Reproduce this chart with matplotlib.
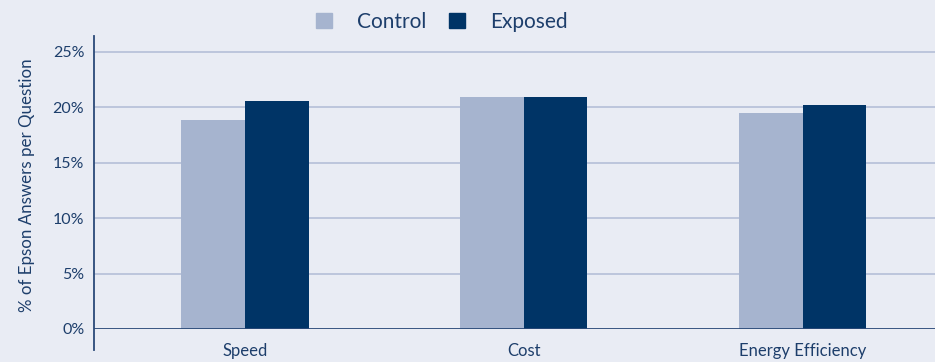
import numpy as np
import matplotlib
matplotlib.use('Agg')
import matplotlib.pyplot as plt
from matplotlib.patches import Patch

plt.rcParams['font.family'] = ['Lato', 'DejaVu Sans']

# data
categories = ['Speed', 'Cost', 'Energy Efficiency']
control = [18.9, 20.9, 19.5]
exposed = [20.6, 20.95, 20.25]
yticks = [0, 5, 10, 15, 20, 25]

bg = '#e9ecf4'
c_control = '#a6b4cf'
c_exposed = '#003466'
c_text = '#1d3e6b'
c_grid = '#b9c3da'

fig = plt.figure(figsize=(9.35, 3.62), dpi=100, facecolor=bg)
ax = fig.add_axes([94 / 935, 33 / 362, 1 - 94 / 935, (329 - 36) / 362])
ax.set_facecolor(bg)

x = np.arange(len(categories))
w = 0.229
ax.bar(x - w / 2, control, w, color=c_control, zorder=3)
ax.bar(x + w / 2, exposed, w, color=c_exposed, zorder=3)

ax.set_xlim(-0.54, 2.475)
ax.set_ylim(0, 26.44)

for t in yticks[1:]:
    ax.axhline(t, color=c_grid, lw=1.3, zorder=1)
ax.axhline(0, color='#2b4a78', lw=1.3, zorder=4)

for s in ax.spines.values():
    s.set_visible(False)
ax.plot([0, 0], [-21 / 293, 1], transform=ax.transAxes, color='#2b4a78',
        lw=1.3, clip_on=False, zorder=5)

ax.set_yticks(yticks)
ax.set_yticklabels([f'{t}%' for t in yticks])
ax.set_xticks(x)
ax.set_xticklabels(categories)
ax.tick_params(axis='y', length=0, pad=7, labelsize=11.5, labelcolor=c_text)
ax.tick_params(axis='x', length=0, pad=10, labelsize=12, labelcolor=c_text)

fig.text(27 / 935, 1 - 185 / 362, '% of Epson Answers per Question', rotation=90,
         ha='center', va='center', fontsize=12.2, color=c_text)

handles = [Patch(color=c_control), Patch(color=c_exposed)]
fig.legend(handles, ['Control', 'Exposed'], loc='center', ncol=2,
           bbox_to_anchor=(442 / 935, 1 - 22 / 362), frameon=False,
           fontsize=15, labelcolor=c_text, handlelength=0.75, handleheight=0.75,
           handletextpad=1.2, columnspacing=1.1)

fig.savefig('out.png', dpi=100, facecolor=bg)
